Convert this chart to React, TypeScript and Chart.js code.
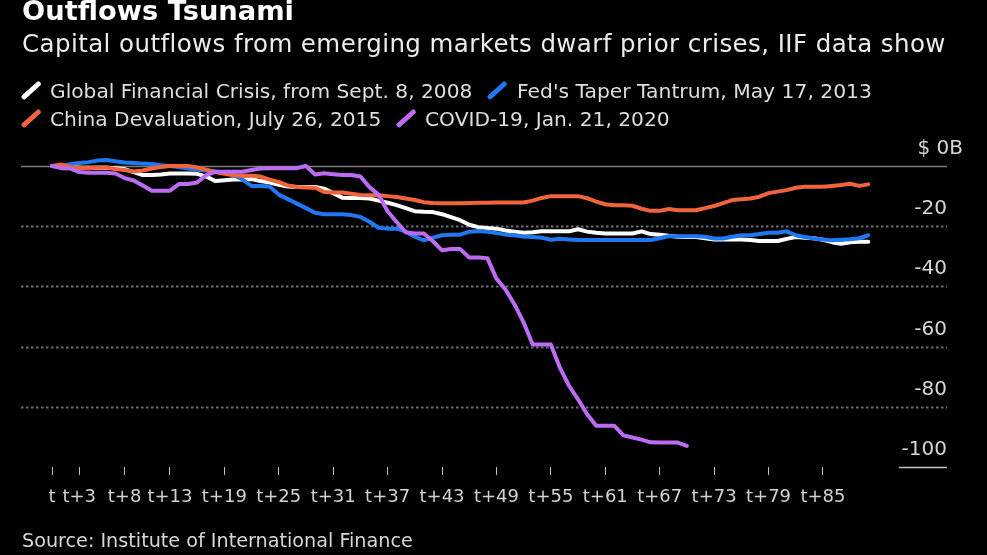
import React, { useEffect, useRef } from "react";
import { Chart, registerables } from "chart.js";

Chart.register(...registerables);

// ---- Data (US$ billions, cumulative outflows, by trading day t+N) ----
const GFC_2008 = [
  0, 0, -0.3, -0.5, -0.6, -0.6, -0.6, -0.7, -1, -2,
  -3, -3, -2.8, -2.5, -2.5, -2.5, -2.6, -3.5, -5, -4.7,
  -4.5, -4.5, -4.3, -5, -5.5, -6.2, -6.8, -7, -7, -7,
  -7.5, -9, -10.5, -10.6, -10.6, -10.8, -11.5, -12.2, -13, -14,
  -15, -15.2, -15.3, -16, -17, -18, -19.5, -20.3, -20.6, -20.8,
  -21.4, -21.8, -22.2, -22, -21.7, -21.7, -21.7, -21.7, -21, -21.8,
  -22.2, -22.4, -22.4, -22.4, -22.4, -21.7, -22.6, -22.8, -23.2, -23.5,
  -23.6, -23.6, -24, -24.4, -24.4, -24.4, -24.4, -24.6, -24.9, -24.9,
  -24.9, -24.2, -23.6, -23.8, -24, -24.5, -25.3, -25.8, -25.3, -25.2,
  -25.2,
];
const TAPER_2013 = [
  0, 0.2, 0.6, 1, 1.3, 1.8, 2, 1.6, 1.2, 1,
  0.8, 0.7, 0.3, 0, -0.3, -0.8, -1.2, -1.5, -1.8, -2.2,
  -3, -4.5, -6.6, -6.6, -6.8, -9.5, -11, -12.5, -14, -15.5,
  -16, -16, -16, -16.3, -16.9, -18.5, -20.5, -20.8, -20.8, -21.8,
  -23.5, -24.7, -23.8, -23, -22.8, -22.8, -21.8, -21.6, -21.8, -22.3,
  -22.8, -23, -23.4, -23.6, -23.8, -24.5, -24.2, -24.4, -24.6, -24.6,
  -24.6, -24.6, -24.6, -24.6, -24.6, -24.6, -24.6, -24, -23.3, -23.3,
  -23.3, -23.3, -23.5, -24.1, -24.1, -23.5, -23, -23, -22.6, -22.2,
  -22.2, -21.7, -23, -23.6, -24.1, -24.4, -24.7, -24.5, -24.3, -24,
  -23,
];
const CHINA_2015 = [
  0, 0.5, -0.3, -0.5, -0.7, -0.5, -0.5, -1, -1.3, -1.8,
  -1.5, -0.8, -0.3, 0, 0, 0, -0.5, -1.2, -2, -2.6,
  -3.1, -3.2, -3.2, -3.5, -4.5, -5.3, -6.5, -7, -7.1, -7.2,
  -8.6, -8.8, -8.8, -9.2, -9.6, -9.7, -9.7, -10, -10.3, -10.8,
  -11.3, -12, -12.3, -12.4, -12.4, -12.4, -12.3, -12.2, -12.2, -12.1,
  -12.1, -12.1, -12.1, -11.5, -10.6, -10, -10, -10, -10, -10.7,
  -11.8, -12.7, -13, -13, -13.2, -14.2, -14.9, -14.9, -14.3, -14.7,
  -14.7, -14.7, -14, -13.3, -12.3, -11.3, -11, -10.8, -10.2, -9,
  -8.5, -8, -7.2, -6.9, -6.9, -6.9, -6.6, -6.3, -5.9, -6.6,
  -6.1,
];
const COVID_2020 = [
  0, -0.7, -0.8, -2, -2.2, -2.2, -2.2, -2.5, -4, -4.8,
  -6.5, -8.2, -8.2, -8.2, -6, -6, -5.5, -3, -1.9, -1.9,
  -1.9, -1.9, -1.3, -0.8, -0.7, -0.7, -0.7, -0.7, 0, -2.8,
  -2.4, -2.7, -3, -3, -3.5, -7, -9.5, -15, -18.6, -22,
  -22.4, -22.4, -25, -28, -27.6, -27.6, -30.4, -30.4, -30.6, -37.4,
  -41, -46, -52, -59.3, -59.3, -59.3, -67, -73, -77.5, -82.5,
  -86.3, -86.3, -86.3, -89.5, -90.2, -90.9, -91.8, -91.9, -91.9, -91.9,
  -93,
];

const X_TICKS = [0, 3, 8, 13, 19, 25, 31, 37, 43, 49, 55, 61, 67, 73, 79, 85];
const Y_TICKS = [0, -20, -40, -60, -80, -100];

const SERIES_LABELS = [
  "Global Financial Crisis, from Sept. 8, 2008",
  "Fed's Taper Tantrum, May 17, 2013",
  "China Devaluation, July 26, 2015",
  "COVID-19, Jan. 21, 2020",
];
const COLORS = ["#ffffff", "#1f78ef", "#ef643a", "#bb6cf2"];

const FONT = "'DejaVu Sans', sans-serif";

const toPoints = (arr: number[]) => arr.map((v, i) => ({ x: i, y: v }));

const gridPlugin = {
  id: "customGrid",
  beforeDatasetsDraw(chart: any) {
    const { ctx, chartArea, scales } = chart;
    const y = scales.y;
    ctx.save();
    Y_TICKS.forEach((v) => {
      const py = Math.round(y.getPixelForValue(v)) + 0.5;
      ctx.beginPath();
      if (v === 0) {
        ctx.setLineDash([]);
        ctx.strokeStyle = "#7c7c7c";
        ctx.lineWidth = 1.5;
        ctx.moveTo(chartArea.left, py);
        ctx.lineTo(chartArea.right, py);
      } else if (v === Y_TICKS[Y_TICKS.length - 1]) {
        ctx.setLineDash([]);
        ctx.strokeStyle = "#c4c4c4";
        ctx.lineWidth = 1.5;
        ctx.moveTo(chartArea.right - 48, py);
        ctx.lineTo(chartArea.right, py);
      } else {
        ctx.setLineDash([2.5, 2.5]);
        ctx.strokeStyle = "#6e6e6e";
        ctx.lineWidth = 2;
        ctx.moveTo(chartArea.left, py);
        ctx.lineTo(chartArea.right, py);
      }
      ctx.stroke();
    });
    ctx.restore();
  },
  afterDraw(chart: any) {
    const { ctx, chartArea, scales } = chart;
    const y = scales.y;
    ctx.save();
    ctx.fillStyle = "#d6d6d6";
    ctx.font = `20px ${FONT}`;
    ctx.textBaseline = "alphabetic";
    Y_TICKS.forEach((v) => {
      const py = y.getPixelForValue(v);
      ctx.textAlign = "right";
      if (v === 0) {
        ctx.fillText("$ 0B", chartArea.right + 16, py - 12);
      } else {
        ctx.fillText(String(v), chartArea.right, py - 12);
      }
    });
    ctx.restore();
  },
};

function LegendMark({ color, cx, cy }: { color: string; cx: number; cy: number }) {
  return (
    <div
      style={{
        position: "absolute",
        left: cx - 12,
        top: cy - 2.25,
        width: 24,
        height: 4.5,
        borderRadius: 2,
        background: color,
        transform: "rotate(-42deg)",
      }}
    />
  );
}

function Txt({
  text,
  left,
  top,
  size,
  color,
  bold,
  spacing,
}: {
  text: string;
  left: number;
  top: number;
  size: number;
  color: string;
  bold?: boolean;
  spacing?: number;
}) {
  return (
    <div
      style={{
        position: "absolute",
        left,
        top,
        fontSize: size,
        lineHeight: 1,
        fontFamily: FONT,
        fontWeight: bold ? 700 : 400,
        letterSpacing: spacing ?? 0,
        color,
        whiteSpace: "nowrap",
      }}
    >
      {text}
    </div>
  );
}

export default function App() {
  const canvasRef = useRef<HTMLCanvasElement | null>(null);

  useEffect(() => {
    document.body.style.margin = "0";
    document.body.style.background = "#000";
    const canvas = canvasRef.current;
    if (!canvas) return;
    const series = [GFC_2008, TAPER_2013, CHINA_2015, COVID_2020];
    const drawOrder = [3, 2, 1, 0];
    const chart = new Chart(canvas, {
      type: "line",
      data: {
        datasets: series.map((s, i) => ({
          label: SERIES_LABELS[i],
          data: toPoints(s),
          borderColor: COLORS[i],
          backgroundColor: COLORS[i],
          borderWidth: 4,
          pointRadius: 0,
          tension: 0,
          fill: false,
          borderJoinStyle: "round" as const,
          borderCapStyle: "round" as const,
          order: drawOrder[i],
          clip: false as any,
        })),
      },
      options: {
        responsive: false,
        animation: false,
        devicePixelRatio: 1,
        events: [],
        layout: { padding: { left: 21, right: 40, top: 157, bottom: 48 } },
        plugins: {
          legend: { display: false },
          tooltip: { enabled: false },
          title: { display: false },
        },
        scales: {
          x: {
            type: "linear",
            min: -3.42,
            max: 98.68,
            afterBuildTicks: (scale: any) => {
              scale.ticks = X_TICKS.map((v) => ({ value: v }));
            },
            afterFit: (scale: any) => {
              scale.height = 40;
              scale.paddingLeft = 0;
              scale.paddingRight = 0;
            },
            ticks: {
              autoSkip: false,
              maxRotation: 0,
              minRotation: 0,
              padding: 12,
              color: "#d2d2d2",
              font: { family: FONT, size: 18 },
              callback: (v: any) => (Number(v) === 0 ? "t" : "t+" + v),
            },
            grid: {
              drawOnChartArea: false,
              drawTicks: true,
              tickLength: 8,
              color: "#bdbdbd",
              lineWidth: 1,
            },
            border: { display: false },
          },
          y: {
            type: "linear",
            min: -100,
            max: 3,
            display: false,
          },
        },
      },
      plugins: [gridPlugin],
    });
    return () => chart.destroy();
  }, []);

  return (
    <div
      style={{
        position: "fixed",
        left: 0,
        top: 0,
        width: 987,
        height: 555,
        background: "#000",
        overflow: "hidden",
      }}
    >
      <canvas
        ref={canvasRef}
        width={987}
        height={555}
        style={{ position: "absolute", left: 0, top: 0, width: 987, height: 555 }}
      />
      <Txt text="Outflows Tsunami" left={22} top={-3} size={27.3} color="#ffffff" bold />
      <Txt
        text="Capital outflows from emerging markets dwarf prior crises, IIF data show"
        left={22}
        top={31.5}
        size={24.5}
        spacing={0.42}
        color="#ececec"
      />
      <LegendMark color={COLORS[0]} cx={31} cy={90.5} />
      <Txt text={SERIES_LABELS[0]} left={50} top={81} size={20.2} color="#dedede" />
      <LegendMark color={COLORS[1]} cx={496.5} cy={90.5} />
      <Txt text={SERIES_LABELS[1]} left={517} top={81} size={20.3} color="#dedede" />
      <LegendMark color={COLORS[2]} cx={31} cy={118} />
      <Txt text={SERIES_LABELS[2]} left={50} top={109} size={20.2} color="#dedede" />
      <LegendMark color={COLORS[3]} cx={406} cy={118} />
      <Txt text={SERIES_LABELS[3]} left={425} top={109} size={20.2} color="#dedede" />
      <Txt
        text="Source: Institute of International Finance"
        left={22}
        top={531}
        size={19.2}
        color="#d6d6d6"
      />
    </div>
  );
}
